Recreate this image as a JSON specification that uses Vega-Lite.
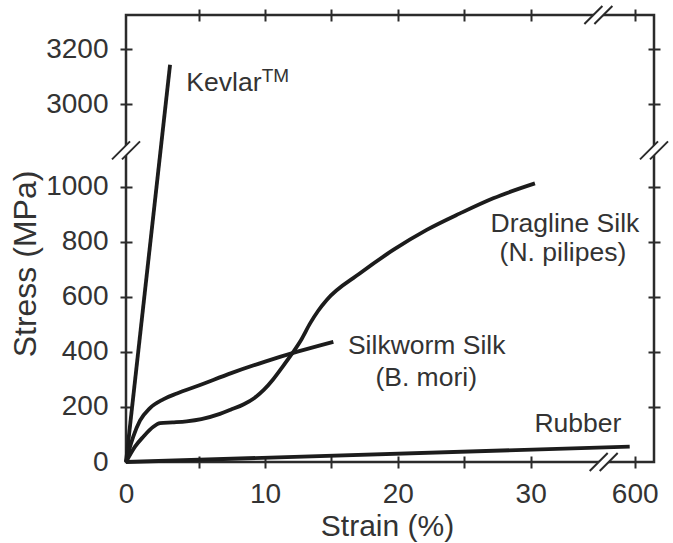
{
  "$schema": "https://vega.github.io/schema/vega-lite/v6.json",
  "width": 528,
  "height": 447,
  "autosize": {"type": "none"},
  "padding": {"left": 126, "top": 15, "right": 19, "bottom": 81},
  "background": "white",
  "config": {
    "view": {"stroke": "#2b2b2b", "strokeWidth": 2.5},
    "font": "Liberation Sans",
    "axis": {
      "domain": false,
      "grid": false,
      "offset": -6,
      "tickSize": 12,
      "tickWidth": 2,
      "tickColor": "#2b2b2b",
      "labelFont": "Liberation Sans",
      "labelFontSize": 28,
      "labelColor": "#333333",
      "labelPadding": 12,
      "labelFlush": false,
      "labelOverlap": false,
      "titleFont": "Liberation Sans",
      "titleColor": "#333333",
      "titleFontWeight": "normal"
    }
  },
  "datasets": {
    "curves": [
      {"material": "Kevlar", "strain": 0, "stress": 0},
      {"material": "Kevlar", "strain": 3.03, "stress": 3144},
      {"material": "Silkworm", "strain": 0, "stress": 0},
      {"material": "Silkworm", "strain": 0.22, "stress": 45},
      {"material": "Silkworm", "strain": 0.5, "stress": 92},
      {"material": "Silkworm", "strain": 0.96, "stress": 150},
      {"material": "Silkworm", "strain": 1.65, "stress": 196},
      {"material": "Silkworm", "strain": 2.56, "stress": 228},
      {"material": "Silkworm", "strain": 3.5, "stress": 249},
      {"material": "Silkworm", "strain": 5.0, "stress": 278},
      {"material": "Silkworm", "strain": 7.5, "stress": 324},
      {"material": "Silkworm", "strain": 10.0, "stress": 365},
      {"material": "Silkworm", "strain": 12.5, "stress": 402},
      {"material": "Silkworm", "strain": 15.14, "stress": 437},
      {"material": "Dragline", "strain": 0, "stress": 0},
      {"material": "Dragline", "strain": 0.62, "stress": 56},
      {"material": "Dragline", "strain": 1.19, "stress": 92},
      {"material": "Dragline", "strain": 1.88, "stress": 128},
      {"material": "Dragline", "strain": 2.34, "stress": 141},
      {"material": "Dragline", "strain": 3.2, "stress": 144},
      {"material": "Dragline", "strain": 4.17, "stress": 148},
      {"material": "Dragline", "strain": 5.2, "stress": 156},
      {"material": "Dragline", "strain": 6.6, "stress": 175},
      {"material": "Dragline", "strain": 7.4, "stress": 190},
      {"material": "Dragline", "strain": 8.4, "stress": 210},
      {"material": "Dragline", "strain": 9.2, "stress": 233},
      {"material": "Dragline", "strain": 9.9, "stress": 262},
      {"material": "Dragline", "strain": 10.6, "stress": 300},
      {"material": "Dragline", "strain": 11.3, "stress": 345},
      {"material": "Dragline", "strain": 12.0, "stress": 392},
      {"material": "Dragline", "strain": 12.7, "stress": 443},
      {"material": "Dragline", "strain": 13.4, "stress": 505},
      {"material": "Dragline", "strain": 14.0, "stress": 550},
      {"material": "Dragline", "strain": 14.64, "stress": 589},
      {"material": "Dragline", "strain": 17.15, "stress": 686},
      {"material": "Dragline", "strain": 19.65, "stress": 771},
      {"material": "Dragline", "strain": 22.17, "stress": 844},
      {"material": "Dragline", "strain": 24.68, "stress": 904},
      {"material": "Dragline", "strain": 27.18, "stress": 959},
      {"material": "Dragline", "strain": 30.32, "stress": 1013},
      {"material": "Rubber", "strain": 0, "stress": 0},
      {"material": "Rubber", "strain": 590, "stress": 56}
    ],
    "labels": [
      {"text": "Kevlar", "strain": 6.9, "stress": 3050},
      {"text": "Dragline Silk", "strain": 32.58, "stress": 836},
      {"text": "(N. pilipes)", "strain": 32.43, "stress": 731},
      {"text": "Silkworm Silk", "strain": 22.17, "stress": 393},
      {"text": "(B. mori)", "strain": 22.13, "stress": 276},
      {"text": "Rubber", "strain": 33.56, "stress": 109}
    ],
    "superscripts": [
      {"text": "TM", "strain": 10.78, "stress": 3083}
    ],
    "breaks": [
      {"side": "bottom", "strain": 35.5, "stress": 0},
      {"side": "top", "strain": 35.1, "stress": 3325},
      {"side": "left", "strain": 0, "stress": 2000},
      {"side": "right", "strain": 638.6, "stress": 2000}
    ]
  },
  "layer": [
    {
      "data": {"name": "curves"},
      "mark": {"type": "line", "interpolate": "monotone", "strokeWidth": 3.8, "color": "#1c1c1c", "strokeCap": "butt"},
      "encoding": {
        "x": {
          "field": "strain", "type": "quantitative",
          "scale": {"domain": [0, 5, 35.5, 540, 638.6], "range": [0, 72.7, 477.7, 478.7, 528], "nice": false, "zero": false},
          "axis": {
            "orient": "bottom",
            "values": [0, 5, 10, 15, 20, 25, 30, 600],
            "format": "d",
            "labelExpr": "datum.value % 10 === 0 ? datum.label : ''",
            "tickOpacity": {"condition": {"test": "datum.value === 0", "value": 0}, "value": 1},
            "tickColor": {"condition": {"test": "datum.value === 0", "value": "transparent"}, "value": "#2b2b2b"},
            "title": "Strain (%)",
            "titleFontSize": 30,
            "titleX": 261,
            "titleY": 79,
            "titleBaseline": "alphabetic"
          }
        },
        "y": {
          "field": "stress", "type": "quantitative",
          "scale": {"domain": [0, 1133, 2833, 3325], "range": [447, 135.4, 135.4, 0], "nice": false, "zero": false},
          "axis": {
            "orient": "left",
            "values": [0, 200, 400, 600, 800, 1000, 3000, 3200],
            "format": "d",
            "tickOpacity": {"condition": {"test": "datum.value === 0", "value": 0}, "value": 1},
            "tickColor": {"condition": {"test": "datum.value === 0", "value": "transparent"}, "value": "#2b2b2b"},
            "title": "Stress (MPa)",
            "titleFontSize": 32,
            "titleAngle": 270,
            "titleX": -97,
            "titleY": 248.5,
            "titleBaseline": "alphabetic"
          }
        },
        "detail": {"field": "material", "type": "nominal"}
      }
    },
    {
      "data": {"name": "breaks"},
      "mark": {"type": "point", "filled": true, "fill": "white", "strokeWidth": 0, "opacity": 1, "size": 784,
               "shape": "M -1 0.643 L 0.286 -0.643 L 1 -0.643 L -0.286 0.643 Z"},
      "encoding": {
        "x": {
          "field": "strain", "type": "quantitative",
          "axis": {
            "orient": "top",
            "values": [5, 10, 15, 20, 25, 30, 600],
            "labels": false,
            "title": null
          }
        },
        "y": {
          "field": "stress", "type": "quantitative",
          "axis": {
            "orient": "right",
            "values": [200, 400, 600, 800, 1000, 3000, 3200],
            "labels": false,
            "title": null
          }
        }
      }
    },
    {
      "data": {"name": "breaks"},
      "mark": {"type": "point", "filled": false, "fill": null, "stroke": "#2b2b2b", "strokeWidth": 2, "opacity": 1, "size": 784,
               "shape": "M -1 0.643 L 0.286 -0.643 M -0.286 0.643 L 1 -0.643"},
      "encoding": {
        "x": {"field": "strain", "type": "quantitative", "axis": null},
        "y": {"field": "stress", "type": "quantitative", "axis": null}
      }
    },
    {
      "data": {"name": "labels"},
      "mark": {"type": "text", "align": "center", "baseline": "alphabetic", "fontSize": 26.5, "font": "Liberation Sans", "color": "#333333"},
      "encoding": {
        "x": {"field": "strain", "type": "quantitative", "axis": null},
        "y": {"field": "stress", "type": "quantitative", "axis": null},
        "text": {"field": "text"}
      }
    },
    {
      "data": {"name": "superscripts"},
      "mark": {"type": "text", "align": "center", "baseline": "alphabetic", "fontSize": 19, "font": "Liberation Sans", "color": "#333333"},
      "encoding": {
        "x": {"field": "strain", "type": "quantitative", "axis": null},
        "y": {"field": "stress", "type": "quantitative", "axis": null},
        "text": {"field": "text"}
      }
    }
  ],
  "resolve": {"axis": {"x": "independent", "y": "independent"}}
}
